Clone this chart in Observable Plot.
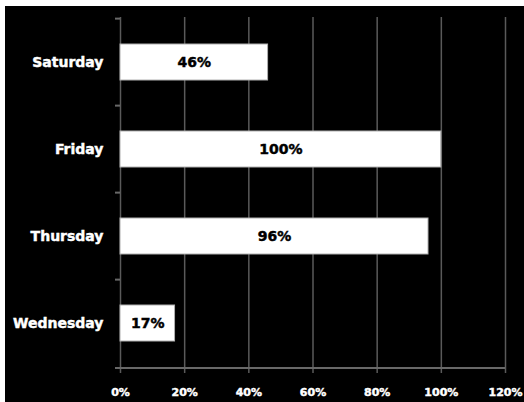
<!DOCTYPE html>
<html>
<head>
<meta charset="utf-8">
<script src="https://cdn.jsdelivr.net/npm/d3@7"></script>
<script src="https://cdn.jsdelivr.net/npm/@observablehq/plot@0.6"></script>
<style>
  html, body { margin: 0; padding: 0; background: #ffffff; width: 524px; height: 402px; overflow: hidden; }
  #chart { position: absolute; left: 5px; top: 6px; width: 519px; height: 396px; background: #000; }
  #chart svg { display: block; background: #000; }
  #chart svg g[aria-label="y-axis tick label"],
  #chart svg g[aria-label="x-axis tick label"] { stroke: #fff; stroke-width: 0.45px; }
  #chart svg g[aria-label="text"] { stroke: #000; stroke-width: 0.45px; }
</style>
</head>
<body>
<div id="chart"></div>
<script>
const days = ["Saturday", "Friday", "Thursday", "Wednesday"];
const values = [46, 100, 96, 17];
const xTicks = [0, 20, 40, 60, 80, 100, 120];

const data = days.map((day, i) => ({day, value: values[i]}));

const W = 519, H = 396;
const mT = 11, mB = 34, mL = 115, mR = 19;
const step = (H - mT - mB) / days.length;
const font = "'DejaVu Sans', sans-serif";
const grey = "#5a5a5a";

const bottomLine = (index, scales, vals, dims) => {
  const y0 = dims.height - dims.marginBottom;
  const g = d3.create("svg:g");
  g.append("line")
    .attr("x1", dims.marginLeft - 5).attr("x2", dims.width - dims.marginRight)
    .attr("y1", y0).attr("y2", y0)
    .attr("stroke", "#686868").attr("stroke-width", 2);
  return g.node();
};

const chart = Plot.plot({
  width: W,
  height: H,
  marginTop: mT,
  marginBottom: mB,
  marginLeft: mL,
  marginRight: mR,
  style: {background: "#000", fontFamily: font},
  x: {domain: [0, 120], ticks: xTicks, axis: null},
  y: {domain: days, paddingInner: 0.59, paddingOuter: 0.295, axis: null},
  marks: [
    Plot.gridX(xTicks, {stroke: grey, strokeOpacity: 1, strokeWidth: 1.5}),
    Plot.axisY({ticks: days, tickSize: 5, dy: -step / 2, tickFormat: () => "", stroke: "#686868", strokeWidth: 2}),
    Plot.axisY({ticks: days, tickSize: 0, tickPadding: 17, fill: "#fff", fontSize: 14, fontWeight: "bold", fontFamily: font, label: null}),
    Plot.axisX({ticks: xTicks, tickSize: 5, tickPadding: 15, stroke: grey, strokeWidth: 1.5, tickFormat: d => d + "%", fill: "#fff", fontSize: 11, fontWeight: "bold", fontFamily: font, label: null}),
    bottomLine,
    Plot.barX(data, {x: "value", y: "day", fill: "#fff", stroke: "#b0b0b0", strokeWidth: 1}),
    Plot.text(data, {x: d => d.value / 2, y: "day", text: d => d.value + "%", fill: "#000", fontSize: 14, fontWeight: "bold", fontFamily: font})
  ]
});

document.getElementById("chart").appendChild(chart);
</script>
</body>
</html>
